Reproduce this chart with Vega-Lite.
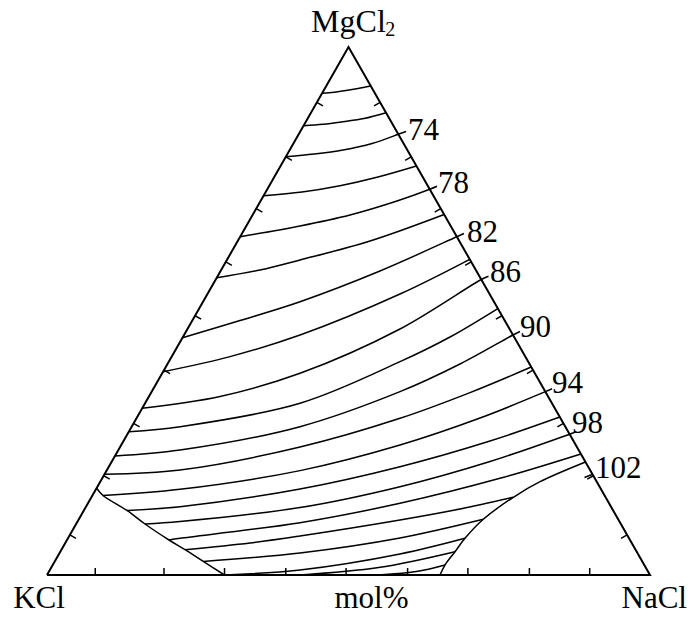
{
  "$schema": "https://vega.github.io/schema/vega-lite/v6.json",
  "width": 603,
  "height": 528,
  "autosize": {"type": "none"},
  "padding": {"left": 47, "top": 47, "right": 41, "bottom": 44},
  "background": "white",
  "config": {"view": {"stroke": null}, "font": "Liberation Serif"},
  "datasets": {
    "frame": [
      {"i": 0, "x": 0, "y": 0},
      {"i": 1, "x": 50, "y": 100},
      {"i": 2, "x": 100, "y": 0},
      {"i": 3, "x": 0, "y": 0}
    ],
    "curves": [
      {"c": "t70", "i": 0, "x": 45.62, "y": 91.23},
      {"c": "t70", "i": 1, "x": 47.6, "y": 91.44},
      {"c": "t70", "i": 2, "x": 49.59, "y": 91.76},
      {"c": "t70", "i": 3, "x": 51.58, "y": 92.14},
      {"c": "t70", "i": 4, "x": 53.69, "y": 92.61},

      {"c": "t72", "i": 0, "x": 42.55, "y": 85.09},
      {"c": "t72", "i": 1, "x": 45.77, "y": 85.36},
      {"c": "t72", "i": 2, "x": 49.09, "y": 85.85},
      {"c": "t72", "i": 3, "x": 52.57, "y": 86.46},
      {"c": "t72", "i": 4, "x": 56.22, "y": 87.56},

      {"c": "t74", "i": 0, "x": 39.61, "y": 79.22},
      {"c": "t74", "i": 1, "x": 44.28, "y": 79.73},
      {"c": "t74", "i": 2, "x": 49.09, "y": 80.49},
      {"c": "t74", "i": 3, "x": 53.9, "y": 81.72},
      {"c": "t74", "i": 4, "x": 58.27, "y": 83.47},
      {"c": "t74", "i": 5, "x": 59.54, "y": 84.0},

      {"c": "t76", "i": 0, "x": 35.92, "y": 71.84},
      {"c": "t76", "i": 1, "x": 42.29, "y": 72.54},
      {"c": "t76", "i": 2, "x": 48.59, "y": 73.73},
      {"c": "t76", "i": 3, "x": 54.89, "y": 75.38},
      {"c": "t76", "i": 4, "x": 61.27, "y": 77.46},

      {"c": "t78", "i": 0, "x": 32.04, "y": 64.07},
      {"c": "t78", "i": 1, "x": 41.96, "y": 66.1},
      {"c": "t78", "i": 2, "x": 50.25, "y": 68.18},
      {"c": "t78", "i": 3, "x": 58.04, "y": 70.83},
      {"c": "t78", "i": 4, "x": 63.48, "y": 73.05},
      {"c": "t78", "i": 5, "x": 64.68, "y": 73.62},

      {"c": "t80", "i": 0, "x": 28.15, "y": 56.31},
      {"c": "t80", "i": 1, "x": 35.32, "y": 57.77},
      {"c": "t80", "i": 2, "x": 41.96, "y": 59.66},
      {"c": "t80", "i": 3, "x": 53.57, "y": 63.26},
      {"c": "t80", "i": 4, "x": 65.86, "y": 68.28},

      {"c": "t82", "i": 0, "x": 22.47, "y": 44.94},
      {"c": "t82", "i": 1, "x": 32.01, "y": 48.2},
      {"c": "t82", "i": 2, "x": 41.96, "y": 51.76},
      {"c": "t82", "i": 3, "x": 55.22, "y": 57.58},
      {"c": "t82", "i": 4, "x": 67.96, "y": 64.07},
      {"c": "t82", "i": 5, "x": 69.15, "y": 64.68},

      {"c": "t84", "i": 0, "x": 19.25, "y": 38.5},
      {"c": "t84", "i": 1, "x": 30.35, "y": 41.36},
      {"c": "t84", "i": 2, "x": 41.96, "y": 45.45},
      {"c": "t84", "i": 3, "x": 58.54, "y": 53.22},
      {"c": "t84", "i": 4, "x": 70.1, "y": 59.79},

      {"c": "t86", "i": 0, "x": 15.79, "y": 31.57},
      {"c": "t86", "i": 1, "x": 28.69, "y": 33.81},
      {"c": "t86", "i": 2, "x": 41.96, "y": 38.2},
      {"c": "t86", "i": 3, "x": 58.54, "y": 46.59},
      {"c": "t86", "i": 4, "x": 72.02, "y": 55.97},
      {"c": "t86", "i": 5, "x": 73.22, "y": 56.57},

      {"c": "t88", "i": 0, "x": 13.57, "y": 27.14},
      {"c": "t88", "i": 1, "x": 22.06, "y": 28.09},
      {"c": "t88", "i": 2, "x": 41.96, "y": 32.52},
      {"c": "t88", "i": 3, "x": 58.54, "y": 40.4},
      {"c": "t88", "i": 4, "x": 66.83, "y": 45.08},
      {"c": "t88", "i": 5, "x": 74.76, "y": 50.47},

      {"c": "t90", "i": 0, "x": 11.27, "y": 22.54},
      {"c": "t90", "i": 1, "x": 22.06, "y": 23.67},
      {"c": "t90", "i": 2, "x": 41.96, "y": 28.09},
      {"c": "t90", "i": 3, "x": 58.54, "y": 34.72},
      {"c": "t90", "i": 4, "x": 68.49, "y": 39.96},
      {"c": "t90", "i": 5, "x": 77.27, "y": 45.45},
      {"c": "t90", "i": 6, "x": 78.44, "y": 46.12},

      {"c": "t92", "i": 0, "x": 9.54, "y": 19.07},
      {"c": "t92", "i": 1, "x": 22.06, "y": 19.89},
      {"c": "t92", "i": 2, "x": 41.96, "y": 24.24},
      {"c": "t92", "i": 3, "x": 58.54, "y": 29.68},
      {"c": "t92", "i": 4, "x": 70.15, "y": 34.55},
      {"c": "t92", "i": 5, "x": 80.3, "y": 39.39},

      {"c": "t94", "i": 0, "x": 9.29, "y": 15.06},
      {"c": "t94", "i": 1, "x": 22.06, "y": 16.23},
      {"c": "t94", "i": 2, "x": 41.96, "y": 19.77},
      {"c": "t94", "i": 3, "x": 58.54, "y": 24.62},
      {"c": "t94", "i": 4, "x": 71.81, "y": 29.73},
      {"c": "t94", "i": 5, "x": 82.64, "y": 34.72},
      {"c": "t94", "i": 6, "x": 83.75, "y": 35.28},

      {"c": "t96", "i": 0, "x": 13.27, "y": 12.22},
      {"c": "t96", "i": 1, "x": 22.06, "y": 12.94},
      {"c": "t96", "i": 2, "x": 41.96, "y": 16.29},
      {"c": "t96", "i": 3, "x": 58.54, "y": 20.51},
      {"c": "t96", "i": 4, "x": 73.47, "y": 25.38},
      {"c": "t96", "i": 5, "x": 85.04, "y": 29.92},

      {"c": "t98", "i": 0, "x": 16.25, "y": 9.66},
      {"c": "t98", "i": 1, "x": 22.06, "y": 10.13},
      {"c": "t98", "i": 2, "x": 41.96, "y": 12.77},
      {"c": "t98", "i": 3, "x": 58.54, "y": 16.72},
      {"c": "t98", "i": 4, "x": 73.47, "y": 21.5},
      {"c": "t98", "i": 5, "x": 86.67, "y": 26.67},
      {"c": "t98", "i": 6, "x": 87.73, "y": 27.12},

      {"c": "t100", "i": 0, "x": 20.23, "y": 6.63},
      {"c": "t100", "i": 1, "x": 22.06, "y": 6.95},
      {"c": "t100", "i": 2, "x": 41.96, "y": 9.91},
      {"c": "t100", "i": 3, "x": 58.54, "y": 13.58},
      {"c": "t100", "i": 4, "x": 75.12, "y": 18.31},
      {"c": "t100", "i": 5, "x": 88.54, "y": 22.92},

      {"c": "t102", "i": 0, "x": 22.89, "y": 4.79},
      {"c": "t102", "i": 1, "x": 33.67, "y": 6.06},
      {"c": "t102", "i": 2, "x": 41.96, "y": 7.39},
      {"c": "t102", "i": 3, "x": 58.54, "y": 10.42},
      {"c": "t102", "i": 4, "x": 68.49, "y": 12.5},
      {"c": "t102", "i": 5, "x": 77.33, "y": 14.72},

      {"c": "t104", "i": 0, "x": 25.92, "y": 2.56},
      {"c": "t104", "i": 1, "x": 41.96, "y": 4.17},
      {"c": "t104", "i": 2, "x": 58.54, "y": 7.01},
      {"c": "t104", "i": 3, "x": 72.35, "y": 10.55},

      {"c": "t106", "i": 0, "x": 29.44, "y": 0},
      {"c": "t106", "i": 1, "x": 41.96, "y": 0.95},
      {"c": "t106", "i": 2, "x": 58.54, "y": 3.98},
      {"c": "t106", "i": 3, "x": 69.32, "y": 6.95},

      {"c": "t108", "i": 0, "x": 42.0, "y": 0},
      {"c": "t108", "i": 1, "x": 55.0, "y": 1.4},
      {"c": "t108", "i": 2, "x": 67.66, "y": 4.41},

      {"c": "t110", "i": 0, "x": 55.0, "y": 0},
      {"c": "t110", "i": 1, "x": 61.5, "y": 0.7},
      {"c": "t110", "i": 2, "x": 66.0, "y": 1.89},

      {"c": "lead102", "i": 0, "x": 89.14, "y": 18.47},
      {"c": "lead102", "i": 1, "x": 90.38, "y": 19.03},

      {"c": "kcl_field", "i": 0, "x": 8.23, "y": 16.42},
      {"c": "kcl_field", "i": 1, "x": 9.29, "y": 15.06},
      {"c": "kcl_field", "i": 2, "x": 13.27, "y": 12.22},
      {"c": "kcl_field", "i": 3, "x": 16.25, "y": 9.66},
      {"c": "kcl_field", "i": 4, "x": 20.23, "y": 6.63},
      {"c": "kcl_field", "i": 5, "x": 22.89, "y": 4.79},
      {"c": "kcl_field", "i": 6, "x": 25.92, "y": 2.56},
      {"c": "kcl_field", "i": 7, "x": 29.44, "y": 0},

      {"c": "nacl_field", "i": 0, "x": 65.17, "y": 0},
      {"c": "nacl_field", "i": 1, "x": 66.0, "y": 1.89},
      {"c": "nacl_field", "i": 2, "x": 67.66, "y": 4.41},
      {"c": "nacl_field", "i": 3, "x": 69.32, "y": 6.95},
      {"c": "nacl_field", "i": 4, "x": 72.35, "y": 10.55},
      {"c": "nacl_field", "i": 5, "x": 77.33, "y": 14.72},
      {"c": "nacl_field", "i": 6, "x": 81.76, "y": 17.67},
      {"c": "nacl_field", "i": 7, "x": 89.3, "y": 21.4}
    ],
    "ticks": [
      {"edge": "base", "x": 8.0, "y": 0},
      {"edge": "base", "x": 19.4, "y": 0},
      {"edge": "base", "x": 29.44, "y": 0},
      {"edge": "base", "x": 39.6, "y": 0},
      {"edge": "base", "x": 49.6, "y": 0},
      {"edge": "base", "x": 59.8, "y": 0},
      {"edge": "base", "x": 69.8, "y": 0},
      {"edge": "base", "x": 80.0, "y": 0},
      {"edge": "base", "x": 90.0, "y": 0},
      {"edge": "left", "x": 44.75, "y": 89.5},
      {"edge": "left", "x": 39.6, "y": 79.2},
      {"edge": "left", "x": 34.7, "y": 69.4},
      {"edge": "left", "x": 29.65, "y": 59.3},
      {"edge": "left", "x": 24.55, "y": 49.1},
      {"edge": "left", "x": 19.4, "y": 38.8},
      {"edge": "left", "x": 14.35, "y": 28.7},
      {"edge": "left", "x": 9.4, "y": 18.8},
      {"edge": "left", "x": 3.8, "y": 7.6},
      {"edge": "right", "x": 55.25, "y": 89.5},
      {"edge": "right", "x": 60.4, "y": 79.2},
      {"edge": "right", "x": 65.3, "y": 69.4},
      {"edge": "right", "x": 70.35, "y": 59.3},
      {"edge": "right", "x": 75.45, "y": 49.1},
      {"edge": "right", "x": 80.6, "y": 38.8},
      {"edge": "right", "x": 85.65, "y": 28.7},
      {"edge": "right", "x": 90.6, "y": 18.8},
      {"edge": "right", "x": 96.2, "y": 7.6}
    ],
    "levels": [
      {"t": "74", "x": 59.87, "y": 82.39},
      {"t": "78", "x": 64.84, "y": 72.35},
      {"t": "82", "x": 69.65, "y": 63.07},
      {"t": "86", "x": 73.47, "y": 55.49},
      {"t": "90", "x": 78.44, "y": 45.08},
      {"t": "94", "x": 83.75, "y": 34.47},
      {"t": "98", "x": 87.06, "y": 26.89},
      {"t": "102", "x": 90.88, "y": 18.37}
    ],
    "corners": [
      {"t": "KCl", "x": -1.33, "y": -6.16},
      {"t": "mol%", "x": 53.81, "y": -6.16},
      {"t": "NaCl", "x": 100.7, "y": -6.16}
    ],
    "apex": [
      {"t": "MgCl", "x": 43.8, "y": 102.9}
    ],
    "apex_sub": [
      {"t": "2", "x": 56.1, "y": 102.0}
    ]
  },
  "encoding": {
    "x": {"field": "x", "type": "quantitative", "scale": {"domain": [0, 100], "nice": false, "zero": false}, "axis": null},
    "y": {"field": "y", "type": "quantitative", "scale": {"domain": [0, 100], "nice": false, "zero": false}, "axis": null}
  },
  "layer": [
    {
      "data": {"name": "curves"},
      "mark": {"type": "line", "interpolate": "catmull-rom", "stroke": "black", "strokeWidth": 1.5, "clip": false},
      "encoding": {
        "detail": {"field": "c", "type": "nominal"},
        "order": {"field": "i", "type": "quantitative"}
      }
    },
    {
      "data": {"name": "frame"},
      "mark": {"type": "line", "stroke": "black", "strokeWidth": 2, "strokeJoin": "miter"},
      "encoding": {"order": {"field": "i", "type": "quantitative"}}
    },
    {
      "data": {"name": "ticks"},
      "transform": [{"filter": "datum.edge == 'base'"}],
      "mark": {"type": "point", "shape": "M0,0L0,-1", "size": 196, "angle": 0, "filled": false, "stroke": "black", "strokeWidth": 1.5, "opacity": 1}
    },
    {
      "data": {"name": "ticks"},
      "transform": [{"filter": "datum.edge == 'left'"}],
      "mark": {"type": "point", "shape": "M0,0L0,-1", "size": 196, "angle": 119.7, "filled": false, "stroke": "black", "strokeWidth": 1.5, "opacity": 1}
    },
    {
      "data": {"name": "ticks"},
      "transform": [{"filter": "datum.edge == 'right'"}],
      "mark": {"type": "point", "shape": "M0,0L0,-1", "size": 196, "angle": 240.3, "filled": false, "stroke": "black", "strokeWidth": 1.5, "opacity": 1}
    },
    {
      "data": {"name": "levels"},
      "mark": {"type": "text", "align": "left", "baseline": "alphabetic", "fontSize": 31, "font": "Liberation Serif", "color": "black"},
      "encoding": {"text": {"field": "t", "type": "nominal"}}
    },
    {
      "data": {"name": "corners"},
      "mark": {"type": "text", "align": "center", "baseline": "alphabetic", "fontSize": 31, "font": "Liberation Serif", "color": "black"},
      "encoding": {"text": {"field": "t", "type": "nominal"}}
    },
    {
      "data": {"name": "apex"},
      "mark": {"type": "text", "align": "left", "baseline": "alphabetic", "fontSize": 32, "font": "Liberation Serif", "color": "black"},
      "encoding": {"text": {"field": "t", "type": "nominal"}}
    },
    {
      "data": {"name": "apex_sub"},
      "mark": {"type": "text", "align": "left", "baseline": "alphabetic", "fontSize": 20, "font": "Liberation Serif", "color": "black"},
      "encoding": {"text": {"field": "t", "type": "nominal"}}
    }
  ]
}
